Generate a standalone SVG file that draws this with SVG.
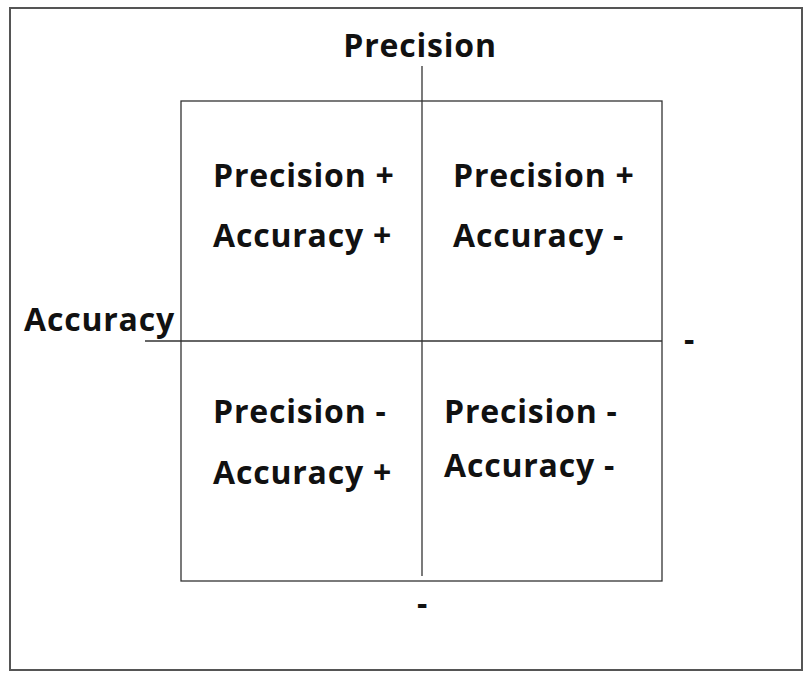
<svg xmlns="http://www.w3.org/2000/svg" width="810" height="677" viewBox="0 0 810 677">
<style>
text{font-family:"Open Sans","Noto Sans",sans-serif;font-weight:bold;font-size:32px;letter-spacing:0.8px;fill:#111}
.ln{stroke:#333;stroke-width:1.3;fill:none}
</style>
<rect width="810" height="677" fill="#fff"/>
<rect x="10" y="8" width="792" height="662" fill="none" stroke="#555" stroke-width="2"/>
<g id="grid">
<rect class="ln" x="181" y="101" width="481" height="480"/>
</g>
<g id="connectors">
<line class="ln" x1="422" y1="66" x2="422" y2="576"/>
<line class="ln" x1="145" y1="341" x2="662" y2="341"/>
</g>
<g id="labels">
<text x="420" y="57" text-anchor="middle">Precision</text>
<text x="24" y="331">Accuracy</text>
<text x="684" y="351">-</text>
<text x="417" y="615">-</text>
</g>
<g id="q1"><text x="213" y="187">Precision +</text><text x="213" y="247">Accuracy +</text></g>
<g id="q2"><text x="453" y="187">Precision +</text><text x="453" y="247">Accuracy -</text></g>
<g id="q3"><text x="213" y="423">Precision -</text><text x="213" y="484">Accuracy +</text></g>
<g id="q4"><text x="444" y="423">Precision -</text><text x="444" y="477">Accuracy -</text></g>
</svg>
